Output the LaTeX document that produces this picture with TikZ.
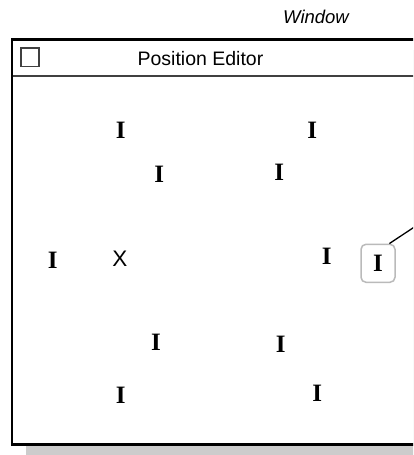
\documentclass[tikz,border=0pt]{standalone}
\usepackage{fontspec}
\setmainfont{Liberation Sans}
\newfontfamily\serifb{Liberation Serif}
\begin{document}
\begin{tikzpicture}[x=1pt,y=-1pt,
  mark I/.style={font=\serifb\bfseries\fontsize{25}{25}\selectfont, inner sep=0pt, anchor=base},
  cursorx/.style={font=\fontsize{22.5}{22.5}\selectfont, inner sep=0pt, anchor=base},
  titletext/.style={font=\fontsize{19.5}{19.5}\selectfont, inner sep=0pt, anchor=base},
  selbox/.style={draw=black!27, line width=1.5pt, rounded corners=5pt, minimum width=34pt, minimum height=38pt, inner sep=0pt, font=\serifb\bfseries\fontsize{25}{25}\selectfont},
]
\useasboundingbox (0,0) rectangle (413,455);
\begin{scope}
\clip (0,0) rectangle (413,455);
% shadow
\fill[black!20] (26,50) rectangle (440,455);
% window
\fill[white] (12,39.5) rectangle (430,444.7);
\draw[line width=2.6pt] (12,39.5) rectangle (430,444.7);
\draw[line width=1.2pt, black!75] (13,76) -- (430,76);
\draw[line width=1.1pt, black!75] (21,48) rectangle (39,66.5);
\node[titletext] (title) at (200.5,65) {Position Editor};
\node[titletext, font=\itshape\fontsize{18.5}{18.5}\selectfont] (win) at (316,23.3) {Window};
% marks
\node[mark I] (i1) at (120.7,138.5) {I};
\node[mark I] (i2) at (312.3,138.5) {I};
\node[mark I] (i3) at (159.3,182.5) {I};
\node[mark I] (i4) at (279.3,180) {I};
\node[mark I] (i5) at (52.7,268.5) {I};
\node[cursorx] (x1) at (120,266.7) {X};
\node[mark I] (i7) at (326.7,264.5) {I};
\node[selbox] (sel) at (378,263.3) {I};
\node[mark I] (i9) at (156,350.8) {I};
\node[mark I] (i10) at (280.7,352.5) {I};
\node[mark I] (i11) at (120.7,403.5) {I};
\node[mark I] (i12) at (317.3,401.2) {I};
\coordinate (lead) at (440,210);
\draw[line width=1.3pt] (sel.60) -- (lead);
\end{scope}
\end{tikzpicture}
\end{document}
